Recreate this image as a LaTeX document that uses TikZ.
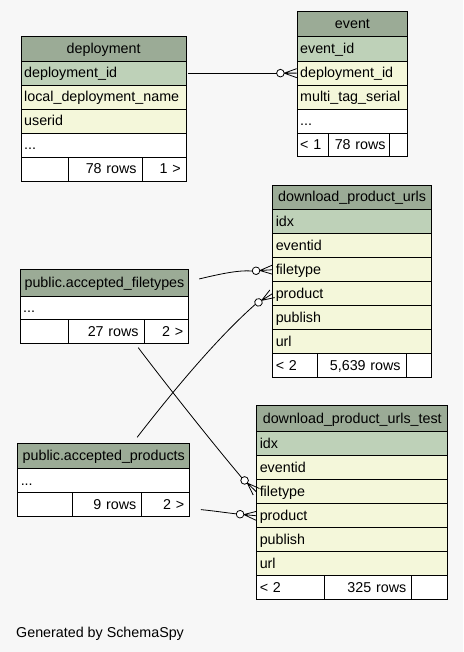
\documentclass[tikz,border=0pt]{standalone}
\usepackage{fontspec}
\setmainfont{Liberation Sans}
\definecolor{hdr}{HTML}{9BAB96}
\definecolor{pkc}{HTML}{BED1B8}
\definecolor{colc}{HTML}{F4F7DA}
\definecolor{bgc}{HTML}{F7F7F7}
\newcommand{\tblfont}{\fontsize{14.3}{16}\selectfont}
\tikzset{
  cell/.style={draw=black, line width=0.9pt, anchor=north west, inner xsep=3pt, inner ysep=0pt,
    minimum height=24pt, text height=11.5pt, text depth=2.5pt, align=left, font=\tblfont},
  head/.style={cell, fill=hdr, align=center},
  pk/.style={cell, fill=pkc},
  col/.style={cell, fill=colc},
  blank/.style={cell, fill=white},
  rcell/.style={cell, fill=white, align=right, inner xsep=5.5pt},
  conn/.style={draw=black, line width=0.8pt},
  tdep/.style={text width=159pt},
  tev/.style={text width=104.6pt},
  tdpu/.style={text width=152.7pt},
  taft/.style={text width=162.6pt},
  tdput/.style={text width=185pt},
  tapr/.style={text width=166pt},
}
\newcommand{\crowo}[3]{%
  \begin{scope}[shift={(#1)}, rotate=#2]
    \draw[conn] (-12.5,0) -- (0,4.5) (-12.5,0) -- (0,0) (-12.5,0) -- (0,-4.5);
    \draw[conn, fill=white] (-16.3,0) circle (3.8);
    \coordinate (#3) at (-20.1,0);
  \end{scope}}
\begin{document}
\begin{tikzpicture}[x=1pt, y=-1pt]
\useasboundingbox[fill=bgc] (0,0) rectangle (463,652);

% deployment
\node[head, tdep, minimum height=24.7pt] (dep-head) at (20.7,36) {deployment};
\node[pk, tdep] (dep-id) at (20.7,60.7) {deployment\_id};
\node[col, tdep] (dep-ldn) at (20.7,84.7) {local\_deployment\_name};
\node[col, tdep] (dep-uid) at (20.7,108.7) {userid};
\node[blank, tdep] (dep-more) at (20.7,132.7) {...};
\node[blank, text width=40.8pt] (dep-f1) at (20.7,156.7) {};
\node[rcell, text width=63.2pt] (dep-f2) at (67.5,156.7) {78 rows};
\node[rcell, text width=33pt] (dep-f3) at (141.7,156.7) {1 >};

% event
\node[head, tev, minimum height=24.7pt] (ev-head) at (296.7,11.3) {event};
\node[pk, tev, minimum height=24.7pt] (ev-id) at (296.7,36) {event\_id};
\node[col, tev] (ev-dep) at (296.7,60.7) {deployment\_id};
\node[col, tev] (ev-mts) at (296.7,84.7) {multi\_tag\_serial};
\node[blank, tev] (ev-more) at (296.7,108.7) {...};
\node[blank, text width=25.6pt, minimum height=23.6pt] (ev-f1) at (296.7,132.7) {< 1};
\node[rcell, inner xsep=3.5pt, text width=53.4pt, minimum height=23.6pt] (ev-f2) at (328.3,132.7) {78 rows};
\node[rcell, text width=7.6pt, minimum height=23.6pt] (ev-f3) at (388.7,132.7) {};

% download_product_urls
\node[head, tdpu, minimum height=24.6pt] (dpu-head) at (272.3,184.7) {download\_product\_urls};
\node[pk, tdpu] (dpu-idx) at (272.3,209.3) {idx};
\node[col, tdpu] (dpu-eid) at (272.3,233.3) {eventid};
\node[col, tdpu] (dpu-ft) at (272.3,257.3) {filetype};
\node[col, tdpu] (dpu-prod) at (272.3,281.3) {product};
\node[col, tdpu] (dpu-pub) at (272.3,305.3) {publish};
\node[col, tdpu] (dpu-url) at (272.3,329.3) {url};
\node[blank, text width=39pt] (dpu-f1) at (272.3,353.3) {< 2};
\node[rcell, text width=77.4pt] (dpu-f2) at (317.3,353.3) {5,639 rows};
\node[rcell, text width=14.3pt] (dpu-f3) at (405.7,353.3) {};

% public.accepted_filetypes
\node[head, taft, minimum height=26.4pt] (aft-head) at (19.7,269.3) {public.accepted\_filetypes};
\node[blank, taft, minimum height=23.6pt] (aft-more) at (19.7,295.7) {...};
\node[blank, text width=42.6pt] (aft-f1) at (19.7,319.3) {};
\node[rcell, text width=64.4pt] (aft-f2) at (68.3,319.3) {27 rows};
\node[rcell, text width=33.6pt] (aft-f3) at (143.7,319.3) {2 >};

% download_product_urls_test
\node[head, tdput, minimum height=26pt] (dput-head) at (256.3,405.3) {download\_product\_urls\_test};
\node[pk, tdput] (dput-idx) at (256.3,431.3) {idx};
\node[col, tdput] (dput-eid) at (256.3,455.3) {eventid};
\node[col, tdput] (dput-ft) at (256.3,479.3) {filetype};
\node[col, tdput] (dput-prod) at (256.3,503.3) {product};
\node[col, tdput] (dput-pub) at (256.3,527.3) {publish};
\node[col, tdput] (dput-url) at (256.3,551.3) {url};
\node[blank, text width=62pt] (dput-f1) at (256.3,575.3) {< 2};
\node[rcell, text width=76pt] (dput-f2) at (324.3,575.3) {325 rows};
\node[rcell, text width=25pt] (dput-f3) at (411.3,575.3) {};

% public.accepted_products
\node[head, tapr, minimum height=25pt] (apr-head) at (17.3,443.3) {public.accepted\_products};
\node[blank, tapr] (apr-more) at (17.3,468.3) {...};
\node[blank, text width=49pt, minimum height=23.7pt] (apr-f1) at (17.3,492.3) {};
\node[rcell, text width=58pt, minimum height=23.7pt] (apr-f2) at (72.3,492.3) {9 rows};
\node[rcell, text width=37pt, minimum height=23.7pt] (apr-f3) at (141.3,492.3) {2 >};

% connectors
\crowo{ev-dep.west}{0}{c1o}
\draw[conn] ([xshift=1.3pt]dep-id.east) -- (c1o);

\crowo{dpu-ft.west}{3.5}{c2o}
\draw[conn] ([xshift=10pt,yshift=4pt]aft-head.east) .. controls (220,274) and (238,270) .. (c2o);

\crowo{dpu-prod.west}{32}{c3o}
\draw[conn] ([xshift=33.4pt,yshift=6pt]apr-head.north) .. controls (170,395) and (215,340) .. (c3o);

\crowo{dput-ft.west}{-44}{c4o}
\draw[conn] ([xshift=-6.4pt,yshift=-3.4pt]aft-f2.south east) .. controls (165,383) and (210,440) .. (c4o);

\crowo{dput-prod.west}{-5.4}{c5o}
\draw[conn] ([xshift=10.7pt,yshift=-5pt]apr-f3.east) .. controls (215,511) and (228,513) .. (c5o);

\node[anchor=base west, inner sep=0pt, font=\tblfont] (credit) at (16,637.5) {Generated by SchemaSpy};
\end{tikzpicture}
\end{document}
